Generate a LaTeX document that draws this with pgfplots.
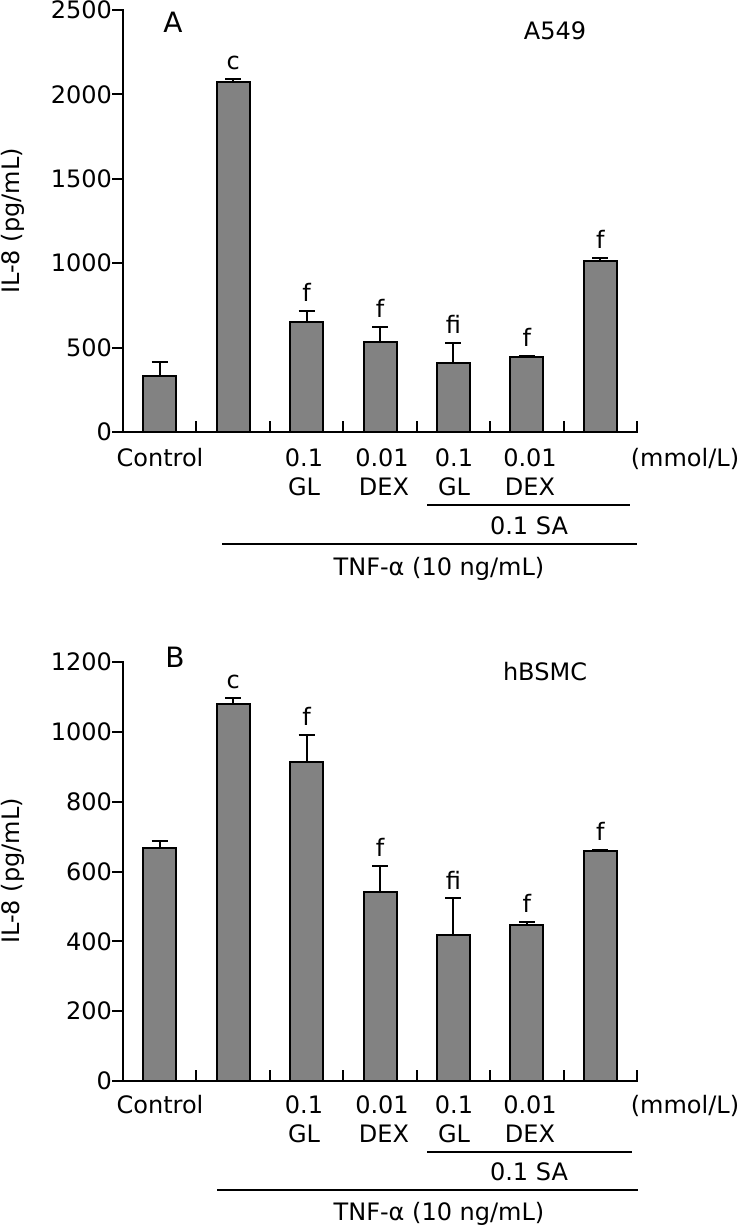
\documentclass[border=0pt]{standalone}
\usepackage{fontspec}
\setmainfont{DejaVu Sans}
\usepackage{pgfplots}
\pgfplotsset{compat=1.18}
\definecolor{barfill}{RGB}{130,130,130}
\tikzset{lett/.style={anchor=south, inner sep=0pt, yshift=4.5pt, font=\fontsize{12}{14}\selectfont}}
\begin{document}
\begin{tikzpicture}
\path[use as bounding box] (0,0) rectangle (370pt,-613.5pt);
\pgfplotsset{
  common/.style={
    scale only axis, width=257pt,
    xmin=-0.5, xmax=6.5, ymin=0,
    axis line style={draw=none},
    xtick pos=left, ytick pos=left,
    xtick align=inside, ytick align=inside,
    major tick length=5.5pt,
    xtick style={black, line width=1pt, yshift=5.5pt},
    ytick style={black, line width=1pt, xshift=-5.5pt},
    xtick={0.5,1.5,2.5,3.5,4.5,5.5,6.5}, xticklabels={},
    font=\fontsize{12}{14}\selectfont,
    yticklabel style={font=\fontsize{12}{14}\selectfont, xshift=-2pt},
    /pgf/number format/1000 sep={},
    /pgf/number format/assume math mode=true,
    ybar, bar width=16.5pt,
    clip=false,
  },
  barplot/.style={
    fill=barfill, draw=black, line width=1pt,
    error bars/.cd, y dir=plus, y explicit,
    error bar style={line width=1pt, black},
    error mark options={rotate=90, mark size=4pt, line width=1pt, black},
  },
}
% Panel A
\begin{axis}[common, height=211pt, ymax=2500, ytick={0,500,1000,1500,2000,2500},
  at={(61.5pt,-216pt)}, anchor=south west]
\addplot[barplot] coordinates {
  (0,332) +- (0,83)
  (1,2074) +- (0,15)
  (2,652) +- (0,65)
  (3,533) +- (0,89)
  (4,409) +- (0,118)
  (5,444) +- (0,5)
  (6,1013) +- (0,20)
};
\draw[line width=1pt, line cap=rect] (rel axis cs:0,1) -- (rel axis cs:0,0) -- (rel axis cs:1,0);
\node[lett] at (axis cs:1,2089) {c};
\node[lett] at (axis cs:2,717) {f};
\node[lett] at (axis cs:3,622) {f};
\node[lett] at (axis cs:4,527) {fi};
\node[lett] at (axis cs:5,449) {f};
\node[lett] at (axis cs:6,1033) {f};
\end{axis}
% Panel B
\begin{axis}[common, height=209.5pt, ymax=1200, ytick={0,200,400,600,800,1000,1200},
  at={(61.5pt,-540.5pt)}, anchor=south west]
\addplot[barplot] coordinates {
  (0,666) +- (0,22)
  (1,1081) +- (0,16)
  (2,915) +- (0,77)
  (3,540) +- (0,76)
  (4,418) +- (0,105)
  (5,447) +- (0,9)
  (6,660) +- (0,3)
};
\draw[line width=1pt, line cap=rect] (rel axis cs:0,1) -- (rel axis cs:0,0) -- (rel axis cs:1,0);
\node[lett] at (axis cs:1,1097) {c};
\node[lett] at (axis cs:2,992) {f};
\node[lett] at (axis cs:3,616) {f};
\node[lett] at (axis cs:4,523) {fi};
\node[lett] at (axis cs:5,456) {f};
\node[lett] at (axis cs:6,663) {f};
\end{axis}
\begin{scope}[x=0.5pt, y=-0.5pt, font=\fontsize{12}{14}\selectfont]
% Panel A texts
\node[rotate=90] at (13,221) {IL-8 (pg/mL)};
\node[font=\fontsize{14}{16}\selectfont] at (173,22) {A};
\node at (555,31) {A549};
\node[anchor=base] at (160,466) {Control};
\node[anchor=base] at (304,466) {0.1};
\node[anchor=base] at (382,466) {0.01};
\node[anchor=base] at (454,466) {0.1};
\node[anchor=base] at (530,466) {0.01};
\node[anchor=base] at (685,466) {(mmol/L)};
\node[anchor=base] at (304,495) {GL};
\node[anchor=base] at (384,495) {DEX};
\node[anchor=base] at (454,495) {GL};
\node[anchor=base] at (530,495) {DEX};
\draw[line width=0.9pt] (427,505) -- (630,505);
\node[anchor=base] at (529,534) {0.1 SA};
\draw[line width=0.9pt] (222,544) -- (637,544);
\node[anchor=base] at (439,575) {TNF-α (10 ng/mL)};
% Panel B texts
\node[rotate=90] at (13,871) {IL-8 (pg/mL)};
\node[font=\fontsize{14}{16}\selectfont] at (175,657) {B};
\node at (545,672) {hBSMC};
\node[anchor=base] at (160,1113) {Control};
\node[anchor=base] at (304,1113) {0.1};
\node[anchor=base] at (382,1113) {0.01};
\node[anchor=base] at (454,1113) {0.1};
\node[anchor=base] at (530,1113) {0.01};
\node[anchor=base] at (685,1113) {(mmol/L)};
\node[anchor=base] at (304,1142) {GL};
\node[anchor=base] at (384,1142) {DEX};
\node[anchor=base] at (454,1142) {GL};
\node[anchor=base] at (530,1142) {DEX};
\draw[line width=0.9pt] (427,1152) -- (632,1152);
\node[anchor=base] at (529,1180) {0.1 SA};
\draw[line width=0.9pt] (217,1190) -- (638,1190);
\node[anchor=base] at (439,1220) {TNF-α (10 ng/mL)};
\end{scope}
\end{tikzpicture}
\end{document}
